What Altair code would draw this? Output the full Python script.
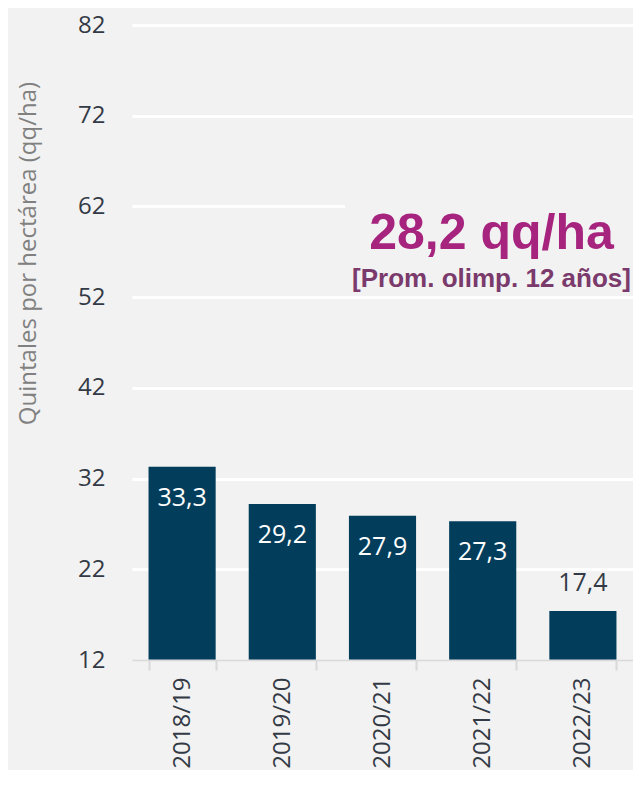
import altair as alt
import pandas as pd

campaigns = ["2018/19", "2019/20", "2020/21", "2021/22", "2022/23"]
yields = [33.3, 29.2, 27.9, 27.3, 17.4]
labels = ["33,3", "29,2", "27,9", "27,3", "17,4"]
y_ticks = [12, 22, 32, 42, 52, 62, 72, 82]
avg_text = "28,2 qq/ha"
avg_sub = "[Prom. olimp. 12 años]"
y_title = "Quintales por hectárea (qq/ha)"

BG = "#f2f2f2"
BAR = "#023e5c"
TXT = "#333a45"

df = pd.DataFrame({"campaign": campaigns, "yield": yields, "label": labels})

yscale = alt.Scale(domain=[12, 82], nice=False, zero=False)
xenc = alt.X(
    "campaign:N",
    sort=campaigns,
    title=None,
    scale=alt.Scale(paddingInner=0.33, paddingOuter=0.165),
    axis=alt.Axis(
        labelAngle=-90,
        labelAlign="right",
        labelBaseline="middle",
        labelFont="Open Sans",
        labelFontSize=24,
        labelColor=TXT,
        labelPadding=7,
        tickSize=10,
        tickColor="#d9d9d9",
        tickWidth=2,
        tickBand="extent",
        domainColor="#d9d9d9",
        domainWidth=2,
        grid=False,
        zindex=1,
    ),
)
yenc = alt.Y(
    "yield:Q",
    scale=yscale,
    title=y_title,
    axis=alt.Axis(
        values=y_ticks,
        ticks=False,
        domain=False,
        labelFont="Open Sans",
        labelFontSize=24,
        labelColor=TXT,
        labelPadding=27,
        grid=True,
        gridColor="white",
        gridWidth=3,
        titleFont="Open Sans",
        titleFontSize=24,
        titleFontWeight="normal",
        titleColor="#808080",
        titleAngle=-90,
        titleAlign="center",
        titleBaseline="alphabetic",
        titleX=-97,
        titleY=228,
    ),
)

base = alt.Chart(df)
bars = base.mark_bar(color=BAR).encode(x=xenc, y=yenc, y2=alt.datum(12))

inside = base.transform_filter("datum['yield'] >= 20").mark_text(
    font="Open Sans", fontSize=25, color="white", dy=39, baseline="alphabetic"
).encode(x=alt.X("campaign:N", sort=campaigns), y=alt.Y("yield:Q", scale=yscale), text="label:N")

outside = base.transform_filter("datum['yield'] < 20").mark_text(
    font="Open Sans", fontSize=25, color=TXT, dy=-20, baseline="alphabetic"
).encode(x=alt.X("campaign:N", sort=campaigns), y=alt.Y("yield:Q", scale=yscale), text="label:N")

cover = alt.Chart(pd.DataFrame({"a": [0]})).mark_rect(color=BG).encode(
    x=alt.value(213), x2=alt.value(501), y=alt.datum(63.5), y2=alt.datum(53.5)
)

ann1 = alt.Chart(pd.DataFrame({"t": [avg_text]})).mark_text(
    font="Liberation Sans", fontWeight="bold", fontSize=50, color="#a6247e",
    align="center", baseline="alphabetic"
).encode(x=alt.value(359.5), y=alt.datum(57.3), text="t:N")

ann2 = alt.Chart(pd.DataFrame({"t": [avg_sub]})).mark_text(
    font="Liberation Sans", fontWeight="bold", fontSize=26, color="#7b3a6c",
    align="center", baseline="alphabetic"
).encode(x=alt.value(359.5), y=alt.datum(53.15), text="t:N")

chart = alt.layer(bars, inside, outside, cover, ann1, ann2).properties(
    width=501,
    height=635,
    background=BG,
    padding={"left": 124, "top": 17, "right": 0, "bottom": 110},
    autosize=alt.AutoSizeParams(type="none"),
).configure_view(stroke=None)

chart.save("out.html", embed_options={"renderer": "svg", "actions": False})
